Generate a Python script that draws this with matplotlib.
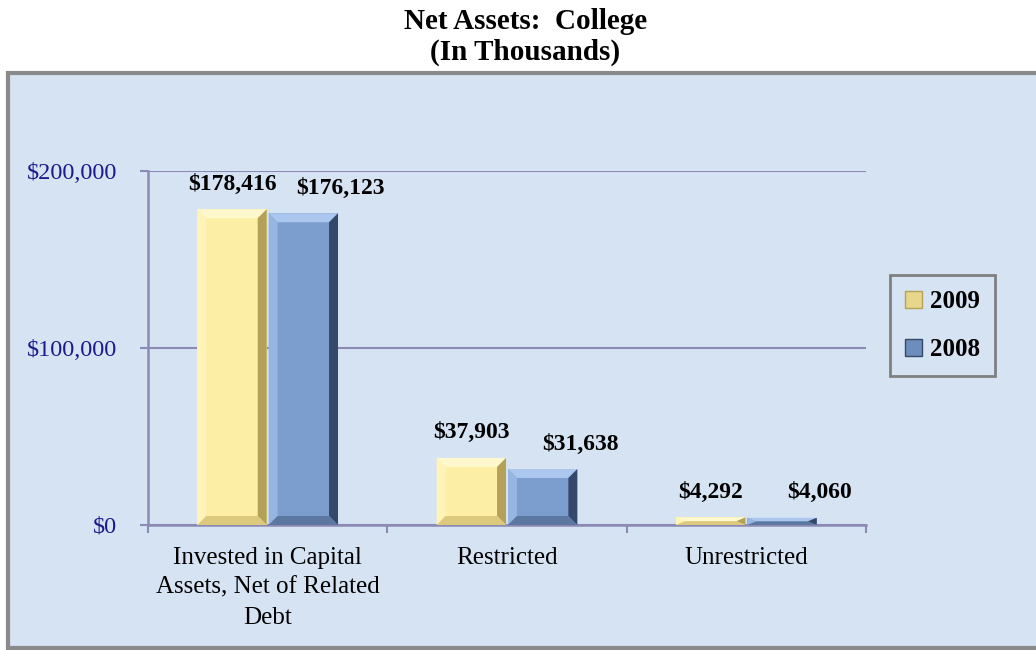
import matplotlib.pyplot as plt
from matplotlib.patches import Rectangle, Polygon, Patch
import numpy as np

categories = ["Invested in Capital\nAssets, Net of Related\nDebt", "Restricted", "Unrestricted"]
values_2009 = [178416, 37903, 4292]
values_2008 = [176123, 31638, 4060]
series_names = ["2009", "2008"]
yticks = [0, 100000, 200000]
ytick_labels = ["$0", "$100,000", "$200,000"]

BG = "#D6E3F3"
AXIS = "#8C8AB4"
SERIF = ["Liberation Serif", "DejaVu Serif"]

# face, top, left, right, bottom
yellow = ["#FDEEA6", "#FFF8CC", "#FFF3B8", "#B3A158", "#DCC97E"]
blue = ["#7C9ECE", "#ABC7EE", "#96B5E0", "#34486A", "#5C77A0"]

plt.rcParams['font.family'] = SERIF

fig = plt.figure(figsize=(10.36, 6.5), dpi=100)
fig.patch.set_facecolor("white")

# outer chart frame
fig.patches.append(Rectangle((8 / 1036, 2 / 650), 1.1, (650 - 75) / 650,
                             transform=fig.transFigure, facecolor=BG,
                             edgecolor="#8A8A8A", linewidth=3, zorder=-5))

fig.text(0.507, 0.988, "Net Assets:  College\n(In Thousands)", ha="center", va="top",
         fontsize=21, fontweight="bold", linespacing=1.2)

ax = fig.add_axes([148 / 1036, 125 / 650, 718 / 1036, 354 / 650])
ax.set_facecolor(BG)
ax.set_xlim(-0.5, 2.5)
ax.set_ylim(0, 200000)

x = np.arange(len(categories))
bw = 0.29
gap = 0.008


def bevel_bar(ax, x0, w, h, cols, px=9):
    t0 = ax.transData.transform((0, 0))
    t1 = ax.transData.transform((1, 1))
    bx = px / (t1[0] - t0[0])
    by = px / (t1[1] - t0[1])
    by = min(by, h / 2)
    bx = min(bx, w / 2)
    x1 = x0 + w
    face, top, left, right, bottom = cols
    ax.add_patch(Rectangle((x0, 0), w, h, facecolor=face, edgecolor="none", zorder=3))
    ax.add_patch(Polygon([(x0, h), (x1, h), (x1 - bx, h - by), (x0 + bx, h - by)],
                         facecolor=top, edgecolor="none", zorder=4))
    ax.add_patch(Polygon([(x0, 0), (x0, h), (x0 + bx, h - by), (x0 + bx, by)],
                         facecolor=left, edgecolor="none", zorder=4))
    ax.add_patch(Polygon([(x1, 0), (x1, h), (x1 - bx, h - by), (x1 - bx, by)],
                         facecolor=right, edgecolor="none", zorder=4))
    ax.add_patch(Polygon([(x0, 0), (x1, 0), (x1 - bx, by), (x0 + bx, by)],
                         facecolor=bottom, edgecolor="none", zorder=4))


for i in range(len(categories)):
    for vals, cols, off, dx in [(values_2009, yellow, -bw - gap / 2, 0),
                                (values_2008, blue, gap / 2, 27)]:
        bevel_bar(ax, x[i] + off, bw, vals[i], cols)
        ax.annotate("${:,}".format(vals[i]), (x[i] + off + bw / 2, vals[i]),
                    xytext=(dx, 18), textcoords="offset points", ha="center", va="center",
                    fontsize=17, fontweight="bold", zorder=5)

ax.set_yticks(yticks)
ax.set_yticklabels(ytick_labels, color="#1A1A8C", fontsize=17.5)
ax.yaxis.grid(True, color=AXIS, linewidth=1.5)
ax.set_axisbelow(True)
ax.set_xticks(x)
ax.set_xticklabels(categories, fontsize=18, linespacing=1.45)
ax.set_xticks([-0.5, 0.5, 1.5, 2.5], minor=True)
ax.tick_params(axis="x", which="major", length=0, pad=16)
ax.tick_params(axis="x", which="minor", length=6, width=1.5, color=AXIS)
ax.tick_params(axis="y", length=6, width=1.5, color=AXIS, pad=16)

for s in ["top", "right"]:
    ax.spines[s].set_visible(False)
for s in ["left", "bottom"]:
    ax.spines[s].set_color(AXIS)
    ax.spines[s].set_linewidth(1.8)

handles = [Patch(facecolor="#E8D78A", edgecolor="#B3A158"),
           Patch(facecolor="#6D8DBB", edgecolor="#34486A")]
leg = ax.legend(handles, series_names, loc="upper left", bbox_to_anchor=(1.033, 0.706),
                prop={"family": SERIF, "weight": "bold", "size": 18},
                fancybox=False, framealpha=1, labelspacing=1.0, handlelength=0.7,
                handleheight=0.7, handletextpad=0.3, borderpad=0.6, borderaxespad=0)
leg.get_frame().set_facecolor(BG)
leg.get_frame().set_edgecolor("#808080")
leg.get_frame().set_linewidth(2)

fig.savefig("out.png", dpi=100)
